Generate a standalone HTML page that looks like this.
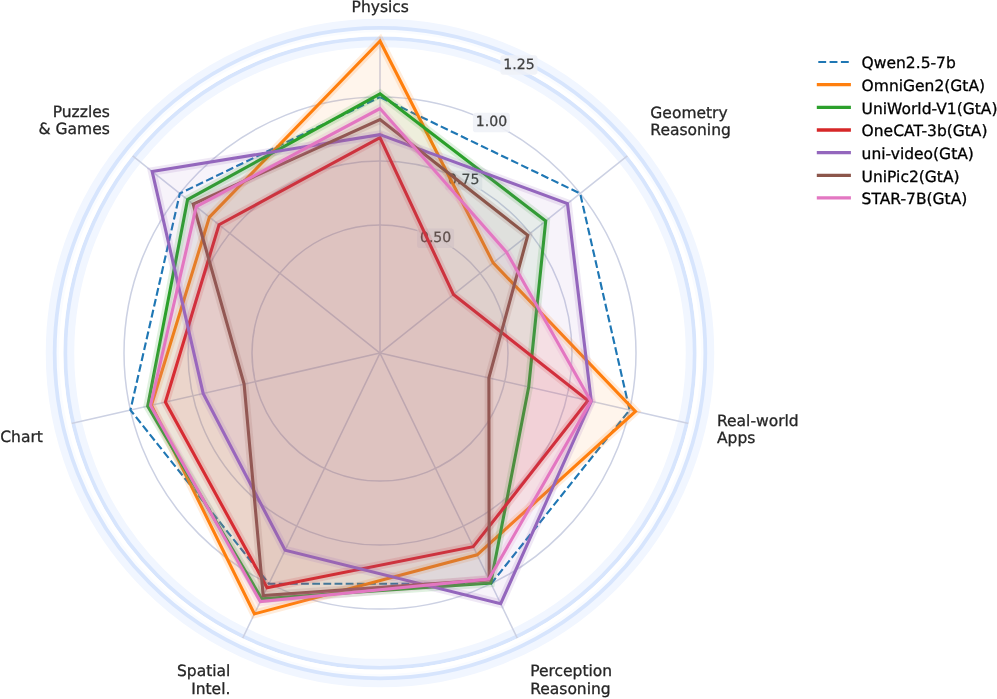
<!DOCTYPE html>
<html lang="en"><head><meta charset="utf-8"><title>Radar chart</title>
<style>html,body{margin:0;padding:0;background:#fff;}body{width:997px;height:699px;overflow:hidden;}svg{display:block;}text{text-rendering:geometricPrecision;font-family:"DejaVu Sans","Liberation Sans",sans-serif;}</style></head><body>
<svg width="997" height="699" viewBox="0 0 997 699">
<rect width="997" height="699" fill="#fff"/>
<g fill="none">
<circle cx="380.0" cy="353.1" r="320.0" stroke="#f1f6ff" stroke-width="28.5"/>
<circle cx="380.0" cy="353.1" r="320.0" stroke="#d7e5fd" stroke-width="14.4"/>
</g>
<g fill="none" stroke="#ccd1e3" stroke-width="1.5">
<circle cx="380.0" cy="353.1" r="128.00"/>
<circle cx="380.0" cy="353.1" r="192.00"/>
<circle cx="380.0" cy="353.1" r="256.00"/>
<line x1="380.0" y1="353.1" x2="380.00" y2="33.10"/>
<line x1="380.0" y1="353.1" x2="630.19" y2="153.58"/>
<line x1="380.0" y1="353.1" x2="691.98" y2="424.31"/>
<line x1="380.0" y1="353.1" x2="518.84" y2="641.41"/>
<line x1="380.0" y1="353.1" x2="241.16" y2="641.41"/>
<line x1="380.0" y1="353.1" x2="68.02" y2="424.31"/>
<line x1="380.0" y1="353.1" x2="129.81" y2="153.58"/>
</g>
<circle cx="380.0" cy="353.1" r="320.0" fill="none" stroke="#fafcff" stroke-width="6.9"/>
<circle cx="380.0" cy="353.1" r="318.8" fill="none" stroke="#ffffff" stroke-width="4.1"/>
<rect x="417.1" y="228.45" width="37" height="19.5" rx="2.8" fill="#eff1f7" fill-opacity="0.85"/>
<text transform="translate(435.60,241.95) scale(1,1.0)" font-size="14.1" text-anchor="middle" fill="#404040" stroke="#404040" stroke-width="0.25">0.50</text>
<rect x="445.2" y="170.85" width="37" height="19.5" rx="2.8" fill="#eff1f7" fill-opacity="0.85"/>
<text transform="translate(463.70,184.35) scale(1,1.0)" font-size="14.1" text-anchor="middle" fill="#404040" stroke="#404040" stroke-width="0.25">0.75</text>
<rect x="472.9" y="112.75" width="37" height="19.5" rx="2.8" fill="#eff1f7" fill-opacity="0.85"/>
<text transform="translate(491.40,126.25) scale(1,1.0)" font-size="14.1" text-anchor="middle" fill="#404040" stroke="#404040" stroke-width="0.25">1.00</text>
<rect x="500.4" y="55.15" width="37" height="19.5" rx="2.8" fill="#eff1f7" fill-opacity="0.85"/>
<text transform="translate(518.90,68.65) scale(1,1.0)" font-size="14.1" text-anchor="middle" fill="#404040" stroke="#404040" stroke-width="0.25">1.25</text>
<polygon points="380.00,97.10 580.15,193.49 629.58,410.07 491.07,583.75 268.93,583.75 130.42,410.07 179.85,193.49" fill="none" stroke="#1f77b4" stroke-width="2.15" stroke-dasharray="7.79 3.37" stroke-dashoffset="-0.5" stroke-linejoin="round"/>
<polygon points="380.00,41.04 493.18,262.84 635.45,411.40 477.17,554.87 254.41,613.89 151.38,405.28 209.41,217.06" fill="none" stroke="#ff7f0e" stroke-opacity="0.15" stroke-width="8.6" stroke-linejoin="miter"/>
<polygon points="380.00,41.04 493.18,262.84 635.45,411.40 477.17,554.87 254.41,613.89 151.38,405.28 209.41,217.06" fill="none" stroke="#ff7f0e" stroke-width="3.1" stroke-linejoin="miter"/>
<polygon points="380.00,41.04 493.18,262.84 635.45,411.40 477.17,554.87 254.41,613.89 151.38,405.28 209.41,217.06" fill="#ff7f0e" fill-opacity="0.08" stroke="none"/>
<polygon points="380.00,93.82 545.72,220.94 528.68,387.03 490.74,583.06 261.71,598.74 147.69,406.12 187.56,199.63" fill="none" stroke="#2ca02c" stroke-opacity="0.15" stroke-width="8.6" stroke-linejoin="miter"/>
<polygon points="380.00,93.82 545.72,220.94 528.68,387.03 490.74,583.06 261.71,598.74 147.69,406.12 187.56,199.63" fill="none" stroke="#2ca02c" stroke-width="3.1" stroke-linejoin="miter"/>
<polygon points="380.00,93.82 545.72,220.94 528.68,387.03 490.74,583.06 261.71,598.74 147.69,406.12 187.56,199.63" fill="#2ca02c" fill-opacity="0.08" stroke="none"/>
<polygon points="380.00,137.55 453.45,294.52 588.03,400.58 473.22,546.68 267.04,587.67 165.38,402.08 219.02,224.72" fill="none" stroke="#d62728" stroke-opacity="0.15" stroke-width="8.6" stroke-linejoin="miter"/>
<polygon points="380.00,137.55 453.45,294.52 588.03,400.58 473.22,546.68 267.04,587.67 165.38,402.08 219.02,224.72" fill="none" stroke="#d62728" stroke-width="3.1" stroke-linejoin="miter"/>
<polygon points="380.00,137.55 453.45,294.52 588.03,400.58 473.22,546.68 267.04,587.67 165.38,402.08 219.02,224.72" fill="#d62728" fill-opacity="0.08" stroke="none"/>
<polygon points="380.00,134.66 567.48,203.59 591.27,401.32 500.69,603.72 285.09,550.19 203.15,393.47 152.15,171.40" fill="none" stroke="#9467bd" stroke-opacity="0.15" stroke-width="8.6" stroke-linejoin="miter"/>
<polygon points="380.00,134.66 567.48,203.59 591.27,401.32 500.69,603.72 285.09,550.19 203.15,393.47 152.15,171.40" fill="none" stroke="#9467bd" stroke-width="3.1" stroke-linejoin="miter"/>
<polygon points="380.00,134.66 567.48,203.59 591.27,401.32 500.69,603.72 285.09,550.19 203.15,393.47 152.15,171.40" fill="#9467bd" fill-opacity="0.08" stroke="none"/>
<polygon points="380.00,119.55 527.81,235.23 488.89,377.95 489.19,579.83 263.19,595.65 244.10,384.12 193.20,204.13" fill="none" stroke="#8c564b" stroke-opacity="0.15" stroke-width="8.6" stroke-linejoin="miter"/>
<polygon points="380.00,119.55 527.81,235.23 488.89,377.95 489.19,579.83 263.19,595.65 244.10,384.12 193.20,204.13" fill="none" stroke="#8c564b" stroke-width="3.1" stroke-linejoin="miter"/>
<polygon points="380.00,119.55 527.81,235.23 488.89,377.95 489.19,579.83 263.19,595.65 244.10,384.12 193.20,204.13" fill="#8c564b" fill-opacity="0.08" stroke="none"/>
<polygon points="380.00,108.52 506.57,252.16 590.90,401.24 488.85,579.14 260.32,601.62 150.51,405.48 196.26,206.57" fill="none" stroke="#e377c2" stroke-opacity="0.15" stroke-width="8.6" stroke-linejoin="miter"/>
<polygon points="380.00,108.52 506.57,252.16 590.90,401.24 488.85,579.14 260.32,601.62 150.51,405.48 196.26,206.57" fill="none" stroke="#e377c2" stroke-width="3.1" stroke-linejoin="miter"/>
<polygon points="380.00,108.52 506.57,252.16 590.90,401.24 488.85,579.14 260.32,601.62 150.51,405.48 196.26,206.57" fill="#e377c2" fill-opacity="0.08" stroke="none"/>
<text transform="translate(380.20,11.50) scale(1,1.0)" font-size="15.5" text-anchor="middle" fill="#262626" stroke="#262626" stroke-width="0.3">Physics</text>
<text transform="translate(650.35,117.60) scale(1,1.0)" font-size="15.5" text-anchor="start" fill="#262626" stroke="#262626" stroke-width="0.3">Geometry</text>
<text transform="translate(650.35,135.00) scale(1,1.0)" font-size="15.5" text-anchor="start" fill="#262626" stroke="#262626" stroke-width="0.3">Reasoning</text>
<text transform="translate(717.00,425.90) scale(1,1.0)" font-size="15.5" text-anchor="start" fill="#262626" stroke="#262626" stroke-width="0.3">Real-world</text>
<text transform="translate(717.00,443.30) scale(1,1.0)" font-size="15.5" text-anchor="start" fill="#262626" stroke="#262626" stroke-width="0.3">Apps</text>
<text transform="translate(530.20,676.30) scale(1,1.0)" font-size="15.5" text-anchor="start" fill="#262626" stroke="#262626" stroke-width="0.3">Perception</text>
<text transform="translate(530.20,693.70) scale(1,1.0)" font-size="15.5" text-anchor="start" fill="#262626" stroke="#262626" stroke-width="0.3">Reasoning</text>
<text transform="translate(230.40,676.20) scale(1,1.0)" font-size="15.5" text-anchor="end" fill="#262626" stroke="#262626" stroke-width="0.3">Spatial</text>
<text transform="translate(230.40,693.60) scale(1,1.0)" font-size="15.5" text-anchor="end" fill="#262626" stroke="#262626" stroke-width="0.3">Intel.</text>
<text transform="translate(42.90,441.60) scale(1,1.0)" font-size="15.5" text-anchor="end" fill="#262626" stroke="#262626" stroke-width="0.3">Chart</text>
<text transform="translate(109.80,116.90) scale(1,1.0)" font-size="15.5" text-anchor="end" fill="#262626" stroke="#262626" stroke-width="0.3">Puzzles</text>
<text transform="translate(109.80,134.30) scale(1,1.0)" font-size="15.5" text-anchor="end" fill="#262626" stroke="#262626" stroke-width="0.3">&amp; Games</text>
<line x1="818.3" y1="62.00" x2="850" y2="62.00" stroke="#1f77b4" stroke-width="2.15" stroke-dasharray="7.85 3.45"/>
<text transform="translate(861.60,68.30) scale(1,1.0)" font-size="15.5" text-anchor="start" fill="#000" stroke="#000" stroke-width="0.3">Qwen2.5-7b</text>
<line x1="816.8" y1="84.66" x2="850.9" y2="84.66" stroke="#ff7f0e" stroke-width="3.3"/>
<text transform="translate(861.60,90.96) scale(1,1.0)" font-size="15.5" text-anchor="start" fill="#000" stroke="#000" stroke-width="0.3">OmniGen2(GtA)</text>
<line x1="816.8" y1="107.32" x2="850.9" y2="107.32" stroke="#2ca02c" stroke-width="3.3"/>
<text transform="translate(861.60,113.62) scale(1,1.0)" font-size="15.5" text-anchor="start" fill="#000" stroke="#000" stroke-width="0.3">UniWorld-V1(GtA)</text>
<line x1="816.8" y1="129.98" x2="850.9" y2="129.98" stroke="#d62728" stroke-width="3.3"/>
<text transform="translate(861.60,136.28) scale(1,1.0)" font-size="15.5" text-anchor="start" fill="#000" stroke="#000" stroke-width="0.3">OneCAT-3b(GtA)</text>
<line x1="816.8" y1="152.64" x2="850.9" y2="152.64" stroke="#9467bd" stroke-width="3.3"/>
<text transform="translate(861.60,158.94) scale(1,1.0)" font-size="15.5" text-anchor="start" fill="#000" stroke="#000" stroke-width="0.3">uni-video(GtA)</text>
<line x1="816.8" y1="175.30" x2="850.9" y2="175.30" stroke="#8c564b" stroke-width="3.3"/>
<text transform="translate(861.60,181.60) scale(1,1.0)" font-size="15.5" text-anchor="start" fill="#000" stroke="#000" stroke-width="0.3">UniPic2(GtA)</text>
<line x1="816.8" y1="197.96" x2="850.9" y2="197.96" stroke="#e377c2" stroke-width="3.3"/>
<text transform="translate(861.60,204.26) scale(1,1.0)" font-size="15.5" text-anchor="start" fill="#000" stroke="#000" stroke-width="0.3">STAR-7B(GtA)</text>
</svg></body></html>
